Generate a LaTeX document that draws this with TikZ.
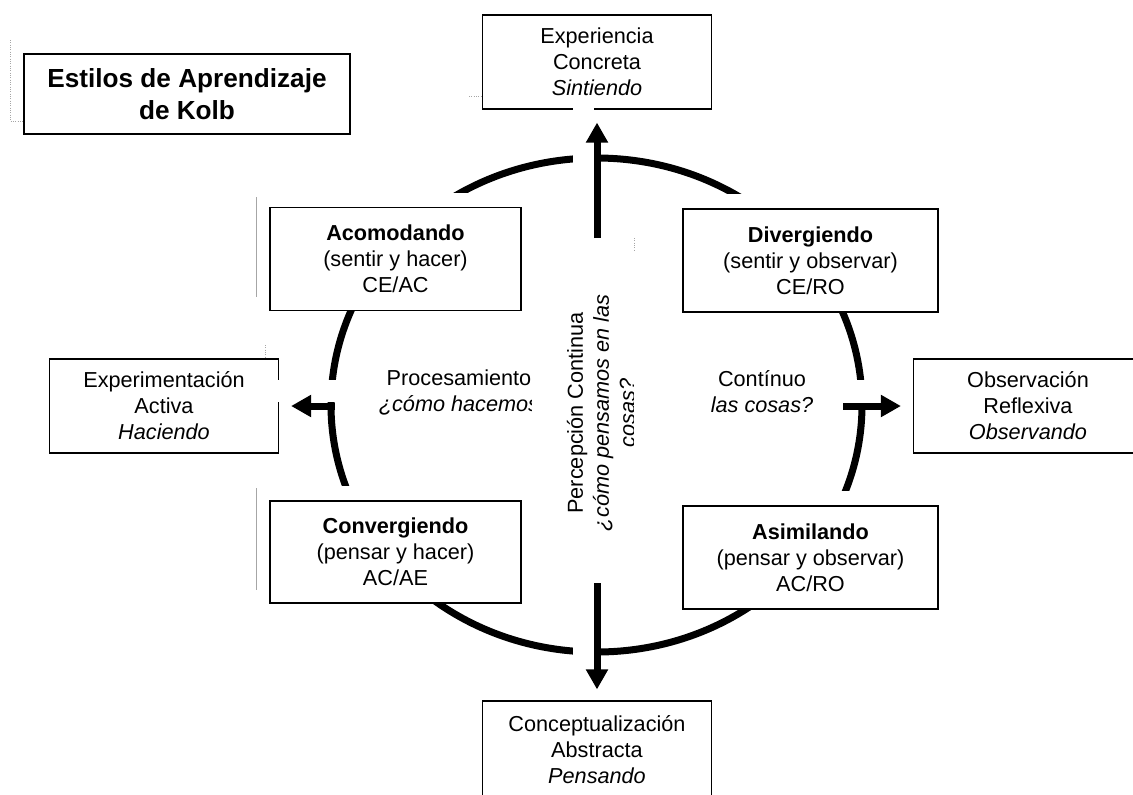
\documentclass[tikz,border=0pt]{standalone}
\usepackage{fontspec}
\setmainfont{Liberation Sans}
\usetikzlibrary{arrows.meta}
\newcommand{\txtnormal}{\fontsize{13}{15.6}\selectfont}
\newcommand{\txttitulo}{\fontsize{15.7}{19}\selectfont\bfseries}
\tikzset{
	caja/.style={draw, fill=white, line width=0.7pt, inner sep=0pt, align=center, font=\txtnormal},
	cajaext/.style={caja, minimum width=137.4pt, minimum height=56.4pt},
	cajaest/.style={caja, minimum width=151.8pt, minimum height=61.8pt},
	texto/.style={font=\txtnormal, align=center, inner sep=0pt},
	flecha/.style={line width=4.2pt, -{Triangle[length=12pt, width=12.6pt]}},
	marca/.style={gray!70, line width=0.4pt}
}

\begin{document}
\begin{tikzpicture}[x=0.6pt, y=-0.6pt]
		\useasboundingbox (0,0) rectangle (1133,794);
		
		% ciclo
		\draw[line width=4.2pt] (596.5,405) ellipse [x radius=265.5, y radius=247];
		
		% titulo y modos
		\node[caja, minimum width=195.6pt, minimum height=48pt, font=\txttitulo] (titulo) at (187,94) {Estilos de Aprendizaje\\de Kolb};
		\node[cajaext] (ec) at (597,62) {Experiencia\\Concreta\\\textit{Sintiendo}};
		\node[cajaext] (ea) at (164,406) {Experimentación\\Activa\\\textit{Haciendo}};
		\node[cajaext] (or) at (1028,406) {Observación\\Reflexiva\\\textit{Observando}};
		\node[cajaext, minimum height=58.8pt] (ca) at (597,750) {Conceptualización\\Abstracta\\\textit{Pensando}};
		
		% estilos
		\node[cajaest, minimum width=150.6pt] (acom) at (395.5,259) {\textbf{Acomodando}\\(sentir y hacer)\\CE/AC};
		\node[cajaest, minimum width=153pt] (div) at (810.5,260.5) {\textbf{Divergiendo}\\(sentir y observar)\\CE/RO};
		\node[cajaest, minimum width=150.6pt, minimum height=61.2pt] (conv) at (395.5,552) {\textbf{Convergiendo}\\(pensar y hacer)\\AC/AE};
		\node[cajaest, minimum width=153pt] (asim) at (810.5,557.5) {\textbf{Asimilando}\\(pensar y observar)\\AC/RO};
		\foreach \n in {acom, div, conv, asim}
			\fill[white] ([yshift=8.4pt]\n.north west) rectangle (\n.north east);
		
		% huecos del ciclo
		\fill[white] (573,100) rectangle (593.5,165);
		\fill[white] (274,380) rectangle (345,402);
		\fill[white] (573,640) rectangle (593.5,665);
		\fill[white] (850,380) rectangle (875,402.5);
		
		% ejes
		\node[texto] (proc) at (459,392) {Procesamiento\\\textit{¿cómo hacemos}};
		\node[texto] (cont) at (762,392) {Contínuo\\\textit{las cosas?}};
		\fill[white] (532,238) rectangle (633,583);
		\begin{scope}
			\clip (532,238) rectangle (633,583);
			\node[texto, rotate=90] (perc) at (601,413) {Percepción Continua\\\textit{¿cómo pensamos en las}\\\textit{cosas?}};
		\end{scope}
		
		% flechas
		\coordinate (pArr) at (597,238);
		\coordinate (pAbj) at (597,583);
		\coordinate (pIzq) at (335,406);
		\coordinate (pDer) at (843,406);
		\draw[flecha, shorten >=7.8pt] (pArr) -- (ec.south);
		\draw[flecha, shorten >=6.6pt] (pAbj) -- (ca.north);
		\draw[flecha, shorten >=7.2pt] (pIzq) -- (ea.east);
		\draw[flecha, shorten >=7.2pt] (pDer) -- (or.west);
		
		% marcas de los marcos
		\draw[marca, densely dotted] (10,40) -- (10,121) -- (titulo.west |- 0,121);
		\draw[marca] (256,197) -- (256,297);
		\draw[marca] (256,488) -- (256,590);
		\draw[marca, densely dotted] (265,345) -- (265,358);
		\draw[marca, densely dotted] (469,96) -- (ec.west |- 0,96);
		\draw[marca, densely dotted] (634,238) -- (634,250);
\end{tikzpicture}
\end{document}
